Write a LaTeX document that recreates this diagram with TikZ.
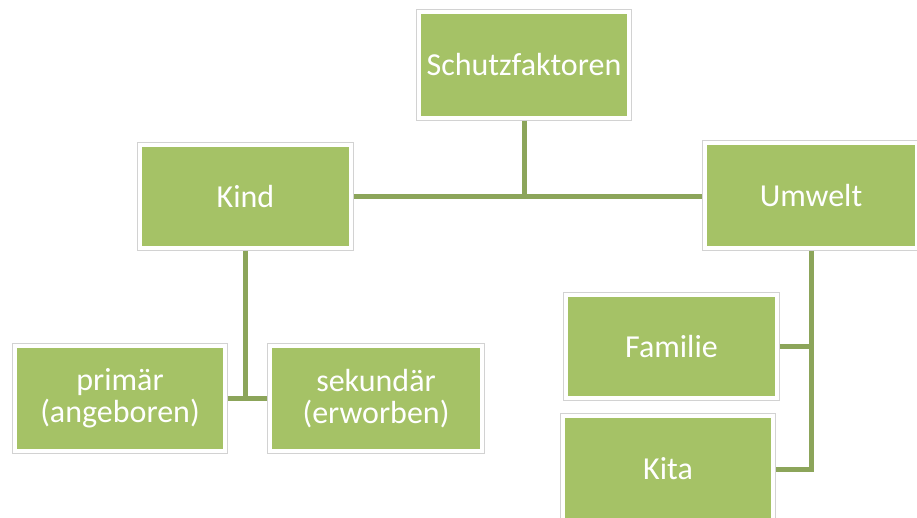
\documentclass[tikz,border=0pt]{standalone}
\usepackage{fontspec}
\setmainfont{Carlito}
\definecolor{boxgreen}{HTML}{A5C266}
\definecolor{linegreen}{HTML}{8CA55A}
\definecolor{rimgray}{HTML}{D2D2D2}
\tikzset{
  sbox/.style={fill=boxgreen, draw=white, line width=4.5pt, text=white,
    font=\fontsize{32}{32}\selectfont, inner sep=0pt, align=center,
    minimum width=212pt, minimum height=106pt},
  rim/.style={draw=rimgray, line width=0.8pt},
  conn/.style={draw=linegreen, line width=5pt}
}
\begin{document}
\begin{tikzpicture}[x=1pt,y=-1pt]
\useasboundingbox (0,0) rectangle (917,518);
\node[sbox, minimum width=211pt, minimum height=107pt] (S) at (524,65) {Schutzfaktoren};
\node[sbox, minimum height=104pt] (K) at (245.5,196.5) {Kind};
\node[sbox, minimum width=213pt] (U) at (811,195.5) {Umwelt};
\node[sbox, minimum width=211pt] (P) at (120,398.5) {primär\\(angeboren)};
\node[sbox, minimum width=213pt] (Se) at (376,398.5) {sekundär\\(erworben)};
\node[sbox, minimum height=104pt] (F) at (671.5,346.5) {Familie};
\node[sbox, minimum width=211pt] (Ki) at (668,469) {Kita};
\foreach \n in {S,K,U,P,Se,F,Ki}{
  \draw[rim] (\n.north west) rectangle (\n.south east);
}
\draw[conn] (S.south) -- (S.south |- K.east);
\draw[conn] (K.east) -- (K.east -| U.west);
\draw[conn] (K.south) -- (K.south |- P.east);
\draw[conn] (P.east) -- (P.east -| Se.west);
\draw[conn] (U.south) |- (Ki.east);
\draw[conn] (F.east) -- (F.east -| U.south);
\end{tikzpicture}
\end{document}
